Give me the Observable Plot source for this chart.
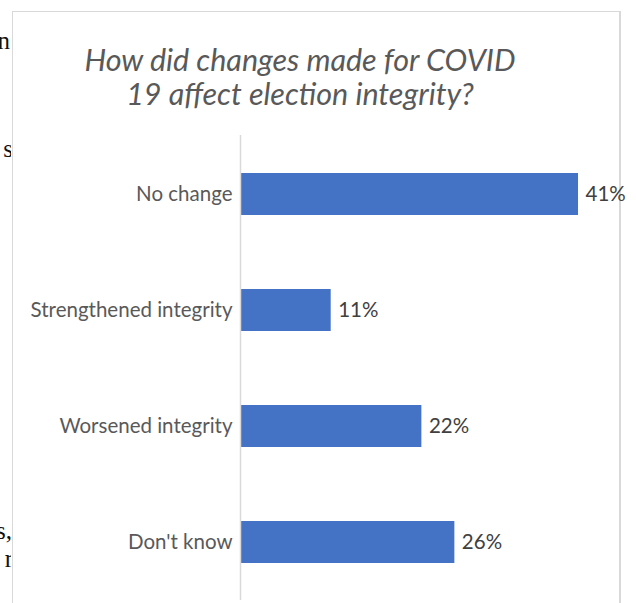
<!DOCTYPE html>
<html>
<head>
<meta charset="utf-8">
<script src="https://cdn.jsdelivr.net/npm/d3@7"></script>
<script src="https://cdn.jsdelivr.net/npm/@observablehq/plot@0.6"></script>
<style>
  html, body { margin: 0; padding: 0; background: #fff; }
  #page { position: relative; width: 636px; height: 603px; overflow: hidden; background: #fff; }
  #box { position: absolute; left: 12px; top: 11px; width: 609px; height: 640px;
         border: 1.5px solid #d9d9d9; border-right-width: 2px; box-sizing: border-box; }
  #title { position: absolute; left: 0; width: 600px; top: 42px; text-align: center;
           font-family: Lato, sans-serif; font-style: italic; font-size: 30.5px; line-height: 34px; color: #595959; }
  #stray { position: absolute; left: 0; top: 0; width: 11px; height: 603px; overflow: hidden; }
  .frag { position: absolute; right: 1px; font-family: "Liberation Serif", serif; font-size: 25px; color: #111; white-space: nowrap; }
  #chart { position: absolute; left: 0; top: 0; }
</style>
</head>
<body>
<div id="page">
  <div id="stray">
    <div class="frag" style="top:27px">n</div>
    <div class="frag" style="top:135px;right:-2px">s</div>
    <div class="frag" style="top:517px;right:-1px">s,</div>
    <div class="frag" style="top:545px;right:-2px">r</div>
  </div>
  <div id="box"></div>
  <div id="chart"></div>
  <div id="title">How did changes made for COVID<br>19 affect election integrity?</div>
</div>
<script>
const categories = ["No change", "Strengthened integrity", "Worsened integrity", "Don't know"];
const values = [0.41, 0.11, 0.22, 0.26];
const valueLabels = ["41%", "11%", "22%", "26%"];

const data = categories.map((c, i) => ({category: c, value: values[i], label: valueLabels[i]}));

const chart = Plot.plot({
  width: 636,
  height: 603,
  marginLeft: 240,
  marginRight: 25,
  marginTop: 135,
  marginBottom: 3,
  style: {fontFamily: "Lato, sans-serif", background: "transparent", overflow: "visible"},
  x: {domain: [0, 0.45], axis: null},
  y: {domain: categories, paddingInner: 0.64, paddingOuter: 0.32, label: null},
  marks: [
    Plot.axisY({tickSize: 0, tickPadding: 8, fontSize: 20.5, color: "#595959", label: null}),
    Plot.barX(data, {x: "value", y: "category", fill: "#4472C4"}),
    Plot.ruleX([0], {stroke: "#d9d9d9", strokeWidth: 1.5}),
    Plot.text(data, {x: "value", y: "category", text: "label", dx: 7, textAnchor: "start",
                     fontSize: 20.5, fill: "#404040"})
  ]
});
document.getElementById("chart").appendChild(chart);
</script>
</body>
</html>
